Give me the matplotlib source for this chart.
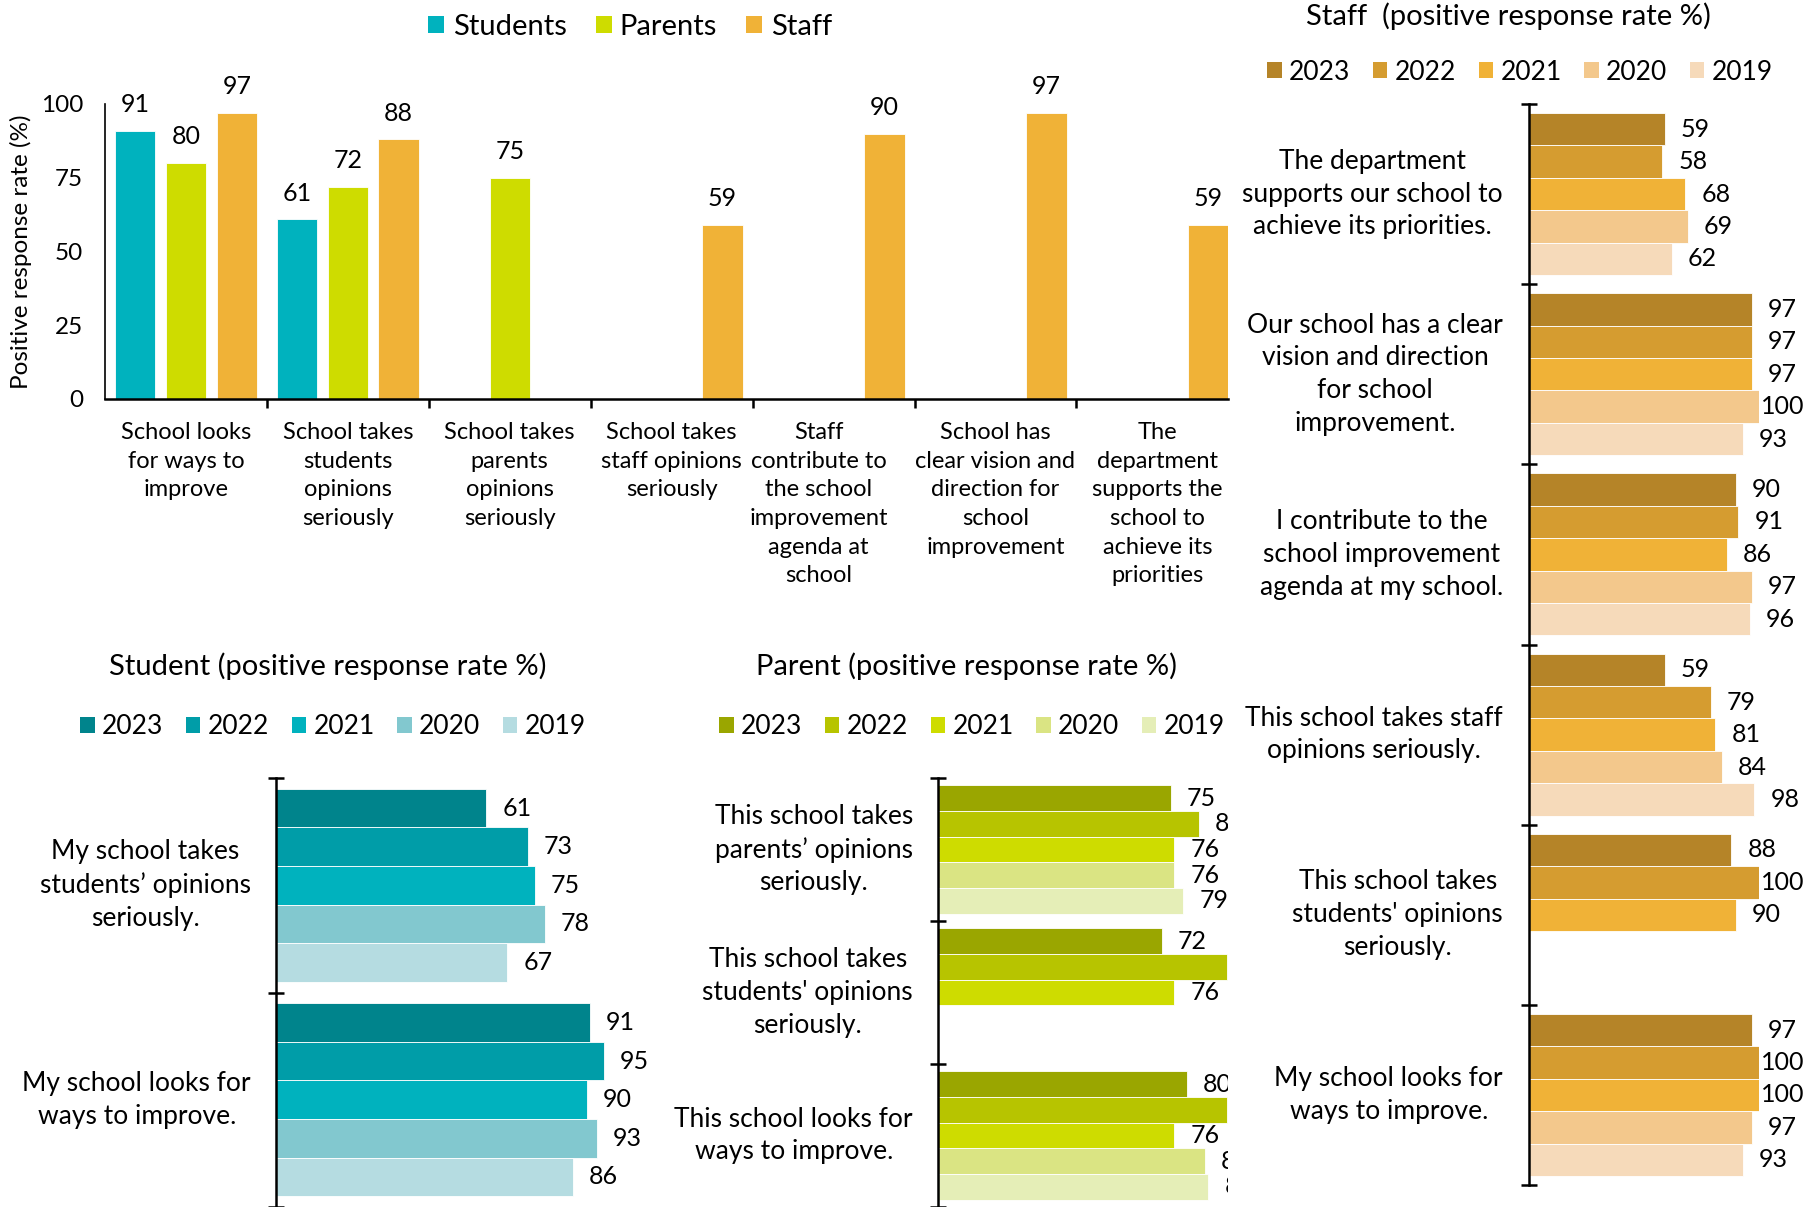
import numpy as np
import matplotlib.pyplot as plt
from matplotlib.patches import Patch
from matplotlib.transforms import ScaledTranslation

plt.rcParams['font.family'] = ['Lato', 'DejaVu Sans']

W, H, DPI = 1813, 1207, 100
nan = np.nan

# overview: one bar per respondent group
overview_groups = ["Students", "Parents", "Staff"]
overview_items = [
    "School looks\nfor ways to\nimprove",
    "School takes\nstudents\nopinions\nseriously",
    "School takes\nparents\nopinions\nseriously",
    "School takes\nstaff opinions\nseriously",
    "Staff\ncontribute to\nthe school\nimprovement\nagenda at\nschool",
    "School has\nclear vision and\ndirection for\nschool\nimprovement",
    "The\ndepartment\nsupports the\nschool to\nachieve its\npriorities",
]
overview_students = [91, 61, nan, nan, nan, nan, nan]
overview_parents = [80, 72, 75, nan, nan, nan, nan]
overview_staff = [97, 88, nan, 59, 90, 97, 59]

years = ["2023", "2022", "2021", "2020", "2019"]

student_items = [
    "My school takes\nstudents\u2019 opinions\nseriously.",
    "My school looks for\nways to improve.",
]
student_2023 = [61, 91]
student_2022 = [73, 95]
student_2021 = [75, 90]
student_2020 = [78, 93]
student_2019 = [67, 86]

parent_items = [
    "This school takes\nparents\u2019 opinions\nseriously.",
    "This school takes\nstudents' opinions\nseriously.",
    "This school looks for\nways to improve.",
]
parent_2023 = [75, 72, 80]
parent_2022 = [84, 93, 93]
parent_2021 = [76, 76, 76]
parent_2020 = [76, nan, 86]
parent_2019 = [79, nan, 87]

staff_items = [
    "The department\nsupports our school to\nachieve its priorities.",
    "Our school has a clear\nvision and direction\nfor school\nimprovement.",
    "I contribute to the\nschool improvement\nagenda at my school.",
    "This school takes staff\nopinions seriously.",
    "This school takes\nstudents' opinions\nseriously.",
    "My school looks for\nways to improve.",
]
staff_2023 = [59, 97, 90, 59, 88, 97]
staff_2022 = [58, 97, 91, 79, 100, 100]
staff_2021 = [68, 97, 86, 81, 90, 100]
staff_2020 = [69, 100, 97, 84, nan, 97]
staff_2019 = [62, 93, 96, 98, nan, 93]

overview_colors = ["#00B2BE", "#CEDC00", "#F0B237"]
student_colors = ["#00848C", "#009DA8", "#00B2BE", "#82C8CF", "#B5DCE1"]
parent_colors = ["#9AA600", "#B7C400", "#CEDC00", "#DAE483", "#E5EEB7"]
staff_colors = ["#B58428", "#D59C30", "#F0B237", "#F3C88C", "#F6DABA"]

VALUE_FS = 18
ITEM_FS = 19
TITLE_FS = 21
AXIS_LW = 1.8


def pt(px):
    return px * 72 / DPI


fig = plt.figure(figsize=(W / DPI, H / DPI), dpi=DPI)


def px_axes(left, top, right, bottom):
    return fig.add_axes([left / W, 1 - bottom / H, (right - left) / W, (bottom - top) / H])


def legend_at(x, y, labels, colors, fs=19, colspace=0.85):
    handles = [Patch(facecolor=c, edgecolor="none") for c in colors]
    fig.legend(handles, labels, loc="center", bbox_to_anchor=(x / W, 1 - y / H),
               ncol=len(labels), frameon=False, fontsize=fs,
               handlelength=0.55, handleheight=0.55, handletextpad=0.28,
               columnspacing=colspace, borderaxespad=0, borderpad=0)


# ---- overview column chart ----
ax = px_axes(105, 104, 1228, 399)
x = np.arange(len(overview_items))
bw, off = 0.25, 0.314
for vals, dx, c in zip([overview_students, overview_parents, overview_staff],
                       [-off, 0, off], overview_colors):
    ax.bar(x + dx, vals, width=bw, color=c, edgecolor="white", linewidth=0.6)
    for xi, v in zip(x + dx, vals):
        if np.isnan(v):
            continue
        ax.annotate(f"{v:.0f}", (xi, v), xytext=(0, pt(26)), textcoords="offset points",
                    ha="center", va="center", fontsize=VALUE_FS)
ax.set_ylim(0, 100)
ax.set_xlim(-0.5, -0.5 + (1228 - 105) / 161.9)
ax.set_yticks([0, 25, 50, 75, 100])
ax.tick_params(axis="y", length=0, pad=pt(22), labelsize=17.5)
ax.set_xticks(x[:-1] + 0.5)
ax.tick_params(axis="x", which="major", direction="out", length=pt(9), width=AXIS_LW,
               labelbottom=False)
ax.set_xticks(x, overview_items, minor=True, fontsize=17, linespacing=1.45)
ax.tick_params(axis="x", which="minor", length=0, pad=pt(23))
# the wrapped "Staff contribute..." label sits a little left of its column
lab = ax.get_xticklabels(minor=True)[4]
lab.set_transform(lab.get_transform() + ScaledTranslation(-15 / DPI, 0, fig.dpi_scale_trans))
for s in ["top", "right"]:
    ax.spines[s].set_visible(False)
ax.spines["bottom"].set_linewidth(AXIS_LW)
ax.spines["left"].set_linewidth(1.2)
ax.set_ylabel("Positive response rate (%)", fontsize=17.5)
ax.yaxis.set_label_coords((32 - 105) / (1228 - 105), 0.5)
legend_at(630, 27, overview_groups, overview_colors, fs=21, colspace=1.0)


# ---- yearly horizontal panels ----
def year_panel(box, items, series, colors, xmax, label_pad_px, clip=False):
    ax = px_axes(*box)
    n = len(items)
    h = 0.18
    texts = []
    for k, (vals, c) in enumerate(zip(series, colors)):
        y = np.arange(n) + 0.05 + h * (k + 0.5)
        ax.barh(y, vals, height=h, color=c, edgecolor="white", linewidth=0.6)
        for yi, v in zip(y, vals):
            if np.isnan(v):
                continue
            t = ax.annotate(f"{v:.0f}", (v, yi), xytext=(pt(16), 0),
                            textcoords="offset points", ha="left", va="center",
                            fontsize=VALUE_FS, annotation_clip=False)
            if clip:
                t.set_clip_on(True)
                t.set_clip_path(ax.patch)
            else:
                t.set_clip_on(False)
            texts.append(t)
    ax.set_ylim(n, 0)
    ax.set_xlim(0, xmax)
    ax.set_xticks([])
    ax.set_yticks(np.arange(n + 1))
    ax.tick_params(axis="y", which="major", direction="inout", length=pt(16),
                   width=AXIS_LW, labelleft=False)
    ax.set_yticks(np.arange(n) + 0.5, items, minor=True, fontsize=ITEM_FS,
                  multialignment="center", linespacing=1.39, va="center")
    ax.tick_params(axis="y", which="minor", length=0, pad=pt(label_pad_px))
    for s in ["top", "right", "bottom"]:
        ax.spines[s].set_visible(False)
    ax.spines["left"].set_linewidth(AXIS_LW)
    ax.set_facecolor("none")
    return ax, texts


student_ax, _ = year_panel(
    (276, 778, 621, 1207), student_items,
    [student_2023, student_2022, student_2021, student_2020, student_2019],
    student_colors, 100, 25)
fig.text(328 / W, 1 - 666 / H, "Student (positive response rate %)", ha="center",
         va="center", fontsize=TITLE_FS)
legend_at(333, 727, years, student_colors)

parent_ax, _ = year_panel(
    (938, 778, 1228, 1207), parent_items,
    [parent_2023, parent_2022, parent_2021, parent_2020, parent_2019],
    parent_colors, (1228 - 938) / 3.107, 25, clip=True)
fig.text(967 / W, 1 - 666 / H, "Parent (positive response rate %)", ha="center",
         va="center", fontsize=TITLE_FS)
legend_at(972, 727, years, parent_colors)

staff_ax, staff_texts = year_panel(
    (1529, 104, 1759, 1185), staff_items,
    [staff_2023, staff_2022, staff_2021, staff_2020, staff_2019],
    staff_colors, 100, 26)
fig.text(1508 / W, 1 - 16 / H, "Staff  (positive response rate %)", ha="center",
         va="center", fontsize=TITLE_FS)
legend_at(1520, 72, years, staff_colors)

# keep the staff value labels inside the right edge
fig.canvas.draw()
limit = 1804
for t in staff_texts:
    bb = t.get_window_extent()
    if bb.x1 > limit:
        dx, dy = t.xyann
        t.xyann = (dx - pt(bb.x1 - limit), dy)

fig.savefig("out.png", dpi=DPI)
